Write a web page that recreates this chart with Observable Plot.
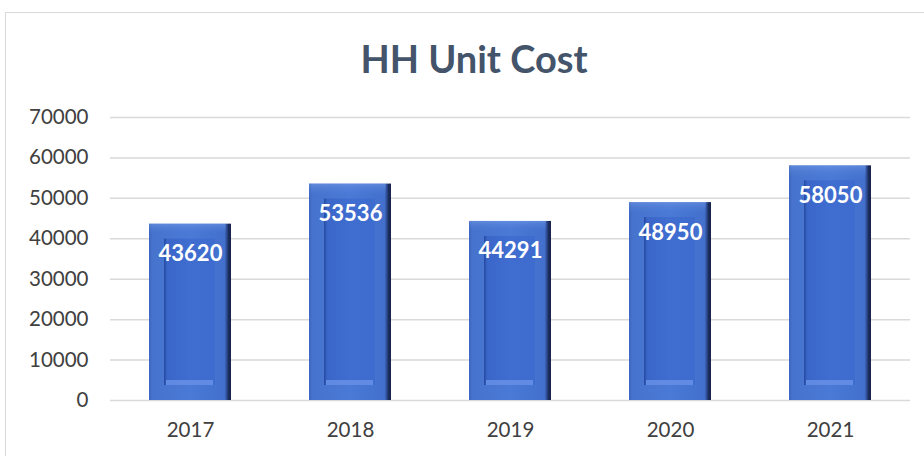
<!DOCTYPE html>
<html><head><meta charset="utf-8">
<script src="https://cdn.jsdelivr.net/npm/d3@7"></script>
<script src="https://cdn.jsdelivr.net/npm/@observablehq/plot@0.6"></script>
<style>
body{margin:0;background:#fff;}
#wrap{position:relative;width:924px;height:456px;overflow:hidden;font-family:Lato,"Open Sans",sans-serif;}
#frame{position:absolute;left:5px;top:12px;width:940px;height:470px;border:1px solid #d9d9d9;}
#title{position:absolute;left:0;top:35px;width:948px;text-align:center;font-size:38px;font-weight:bold;color:#44546A;}
#chart{position:absolute;left:0;top:100px;}
</style></head><body>
<div id="wrap"><div id="frame"></div><div id="title">HH Unit Cost</div><div id="chart"></div></div>
<script>
const years = ["2017","2018","2019","2020","2021"];
const costs = [43620, 53536, 44291, 48950, 58050];
const yTicks = [0,10000,20000,30000,40000,50000,60000,70000];
const data = years.map((y,i)=>({year:y, cost:costs[i], zero:0}));

const plot = Plot.plot({
  width: 924, height: 356,
  marginTop: 17, marginBottom: 56, marginLeft: 110, marginRight: 14,
  style: {fontFamily: "Lato, 'Open Sans', sans-serif", fontSize: "20.5px", color: "#595959", background: "transparent"},
  x: {domain: years, paddingInner: 0.49, paddingOuter: 0.245, align: 0.5, label: null},
  y: {domain: [0,70000], label: null},
  marks: [
    Plot.gridY(yTicks, {stroke: "#d9d9d9", strokeOpacity: 1, strokeWidth: 1.5}),
    Plot.barY(data, {x: "year", y: "cost", fill: "url(#barGrad)"}),
    Plot.barY(data, {x: "year", y1: "zero", y2: "cost", fill: "url(#topGrad)", fillOpacity: 0.35, insetRight: 5}),
    Plot.barY(data, {x: "year", y1: "zero", y2: "cost", fill: "url(#innerGrad)", insetLeft: 15, insetRight: 16, insetTop: 15, insetBottom: 15}),
    Plot.barY(data, {x: "year", y1: "zero", y2: "zero", fill: "#6890e6", fillOpacity: 0.85, insetLeft: 17, insetRight: 18, insetTop: -20, insetBottom: 15}),
    Plot.text(data, {x: "year", y: "cost", text: d => String(d.cost), dy: 30, fill: "white", fontWeight: "bold", fontSize: 22}),
    Plot.axisX({tickSize: 0, tickPadding: 22, fill: "#404040"}),
    Plot.axisY(yTicks, {tickSize: 0, tickPadding: 22, tickFormat: d => String(d), fill: "#404040"})
  ]
});
const svg = d3.select(plot);
const defs = svg.insert("defs", ":first-child");
const g = defs.append("linearGradient").attr("id","barGrad").attr("x1","0").attr("x2","1").attr("y1","0").attr("y2","0");
[[0,"#3c66bf"],[0.04,"#4673cc"],[0.5,"#4a79d6"],[0.92,"#4270cc"],[0.95,"#2c4a90"],[0.97,"#1c2c5c"],[1,"#16234a"]]
  .forEach(([o,c])=>g.append("stop").attr("offset",o).attr("stop-color",c));
const gt = defs.append("linearGradient").attr("id","topGrad").attr("x1","0").attr("x2","0").attr("y1","0").attr("y2","1");
[[0,"#8fb0f0"],[0.06,"#4a79d6"],[1,"#4a79d6"]].forEach(([o,c])=>gt.append("stop").attr("offset",o).attr("stop-color",c).attr("stop-opacity", o==0?1:0));
const g2 = defs.append("linearGradient").attr("id","innerGrad").attr("x1","0").attr("x2","1").attr("y1","0").attr("y2","0");
[[0,"#2449a0"],[0.06,"#3a66c8"],[0.5,"#3f6dd0"],[1,"#3d6bce"]]
  .forEach(([o,c])=>g2.append("stop").attr("offset",o).attr("stop-color",c));
document.getElementById("chart").appendChild(plot);
</script>
</body></html>
